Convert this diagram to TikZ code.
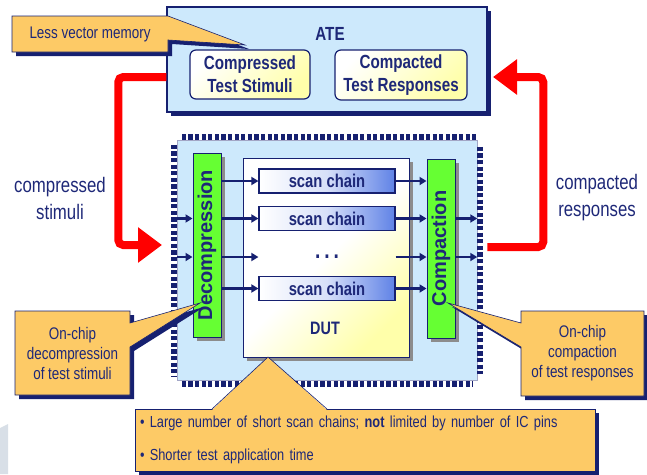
\documentclass[tikz,border=0pt]{standalone}
\usepackage{fontspec}
\setmainfont{Liberation Sans}[FakeStretch=0.8]
\newfontfamily\barfont{Liberation Sans}
\usetikzlibrary{arrows.meta,shapes.callouts,shadows}

\definecolor{navy}{RGB}{22,32,112}
\definecolor{txtnavy}{RGB}{30,40,120}
\definecolor{atefill}{RGB}{205,233,252}
\definecolor{notefill}{RGB}{253,202,102}
\definecolor{bargreen}{RGB}{102,255,51}
\definecolor{chainblue}{RGB}{95,130,230}
\definecolor{paleyellow}{RGB}{255,255,170}
\definecolor{shadowgray}{RGB}{140,140,140}
\definecolor{pagegray}{RGB}{216,223,231}

\newcommand\fsize[2]{\fontsize{#1}{#2}\selectfont}

\tikzset{
  navyshadow/.style={drop shadow={shadow xshift=4pt,shadow yshift=-4pt,fill=navy,opacity=1}},
  grayshadow/.style={drop shadow={shadow xshift=4pt,shadow yshift=-4pt,fill=shadowgray,opacity=1}},
  atebox/.style={draw=navy, line width=1.5pt, fill=atefill, navyshadow},
  vecbox/.style={draw=navy, line width=1.2pt, rounded corners=6pt, top color=white,
    bottom color=paleyellow, shading angle=45, text=txtnavy, align=center,
    font=\bfseries\fsize{19}{23}},
  chipbox/.style={draw=navy!40, line width=0.5pt, fill=atefill},
  pins/.style={draw=navy, line width=6pt, dash pattern=on 4.2pt off 2.4pt},
  dutbox/.style={draw=navy, line width=1pt, top color=white, bottom color=paleyellow,
    middle color=white, shading angle=45, grayshadow},
  bar/.style={draw=navy, line width=1pt, fill=bargreen, grayshadow, text=txtnavy,
    inner sep=0pt, font=\barfont\bfseries\fsize{20}{22}},
  chain/.style={draw=navy, line width=1.2pt, minimum width=136pt, minimum height=24pt,
    left color=white, right color=chainblue, middle color=white!75!chainblue, inner sep=0pt,
    text=txtnavy, font=\bfseries\fsize{18.5}{20}},
  sig/.style={draw=navy, line width=2.2pt, -{Triangle[length=7pt,width=8pt]}},
  redarrow/.style={draw=red, line width=8pt, rounded corners=5pt,
    -{Triangle[length=24pt,width=34pt]}},
  sidetext/.style={text=txtnavy, align=center, font=\fsize{21}{27}},
  note/.style={rectangle callout, draw=navy, line width=0.6pt, fill=notefill, navyshadow,
    text=txtnavy, align=center, inner sep=0pt, callout pointer width=24pt,
    font=\fsize{16.8}{20}},
  notebox/.style={draw=navy, line width=0.6pt, fill=notefill, navyshadow, text=txtnavy}
}

\begin{document}
\begin{tikzpicture}[x=1pt,y=-1pt]
  \useasboundingbox (0,0) rectangle (647,474);
  \fill[pagegray] (0,428) -- (8,424) -- (8,474) -- (0,474) -- cycle;

  % tester
  \node[atebox, minimum width=320pt, minimum height=105pt] (ate) at (327,59.5) {};
  \node[text=txtnavy, font=\bfseries\fsize{19}{21}] (atelbl) at (330,34) {ATE};
  \node[vecbox, minimum width=120pt, minimum height=49pt] (cstim) at (250,74.5) {Compressed\\Test Stimuli};
  \node[vecbox, minimum width=132pt, minimum height=50pt] (cresp) at (401,75) {Compacted\\Test Responses};

  % chip with pins
  \node[chipbox, minimum width=300pt, minimum height=240pt] (chip) at (327,260) {};
  \draw[pins] ([xshift=5pt,yshift=3pt]chip.north west) -- ([xshift=-1pt,yshift=3pt]chip.north east);
  \draw[pins] ([xshift=5pt,yshift=-3.5pt]chip.south west) -- ([xshift=-5pt,yshift=-3.5pt]chip.south east);
  \draw[pins] ([xshift=-3pt,yshift=-5pt]chip.north west) -- ([xshift=-3pt,yshift=4pt]chip.south west);
  \draw[pins] ([xshift=3pt,yshift=-7pt]chip.north east) -- ([xshift=3pt,yshift=6pt]chip.south east);

  \node[dutbox, minimum width=166pt, minimum height=199pt] (dut) at (326,257.5) {};
  \node[text=txtnavy, font=\bfseries\fsize{18}{20}] (dutlbl) at (325,328) {DUT};
  \node[bar, minimum width=28pt, minimum height=184pt] (dec) at (207,245) {\rotatebox{90}{Decompression}};
  \node[bar, minimum width=28pt, minimum height=179pt] (cmp) at (441,248.5) {\rotatebox{90}{Compaction}};
  \node[chain] (sc1) at (327,181) {scan chain};
  \node[chain] (sc2) at (327,218.5) {scan chain};
  \node[chain] (sc3) at (327,288.5) {scan chain};
  \node[text=txtnavy, font=\bfseries\fsize{24}{24}] (dots) at (327,257) {.\,.\,.};

  \begin{scope}[sig]
    \draw (chip.west |- sc2) -- (dec.west |- sc2);
    \draw (chip.west |- dots) -- (dec.west |- dots);
    \draw (dec.east |- sc1) -- (sc1.west);
    \draw (dec.east |- sc2) -- (sc2.west);
    \draw (dec.east |- dots) -- (sc1.west |- dots);
    \draw (dec.east |- sc3) -- (sc3.west);
    \draw (sc1.east) -- (cmp.west |- sc1);
    \draw (sc2.east) -- (cmp.west |- sc2);
    \draw (sc1.east |- dots) -- (cmp.west |- dots);
    \draw (sc3.east) -- (cmp.west |- sc3);
    \draw (cmp.east |- sc2) -- (chip.east |- sc2);
    \draw (cmp.east |- dots) -- (chip.east |- dots);
  \end{scope}

  % data to and from the tester
  \coordinate (redin) at (162,245);
  \coordinate (redout) at (493,77);
  \draw[redarrow] ([yshift=-17.5pt]ate.west) -- ++(-48,0) |- (redin);
  \draw[redarrow] ([xshift=10pt,yshift=13pt]chip.east) -- ++(56,0) |- (redout);
  \node[sidetext] (cstimlbl) at (60,198) {compressed\\stimuli};
  \node[sidetext] (crsplbl) at (597,198) {compacted\\responses};

  % notes
  \node[note, minimum width=156pt, minimum height=36pt, callout absolute pointer={(245,45)}] (memnote) at (90,34) {Less vector memory};
  \node[note, minimum width=115pt, minimum height=84pt, callout absolute pointer={(200,303)}] (decnote) at (72.5,353) {On-chip\\decompression\\of test stimuli};
  \node[note, minimum width=123pt, minimum height=85pt, callout absolute pointer={(448,303)}] (cmpnote) at (582.5,353.5) {On-chip\\compaction\\of test responses};
  \node[notebox, text width=450pt, inner xsep=5pt, inner ysep=0pt, minimum height=62pt, align=left, font=\fsize{16}{33}] (gains) at (365,440)
    {\textbullet\ Large number of short scan chains; \textbf{not} limited by number of IC pins\\\textbullet\ Shorter test application time};
  \fill[notefill] (212,410) -- (268,357) -- (327,410) -- cycle;
  \draw[navy, line width=0.6pt] (212,409) -- (268,357) -- (327,409);
\end{tikzpicture}
\end{document}
